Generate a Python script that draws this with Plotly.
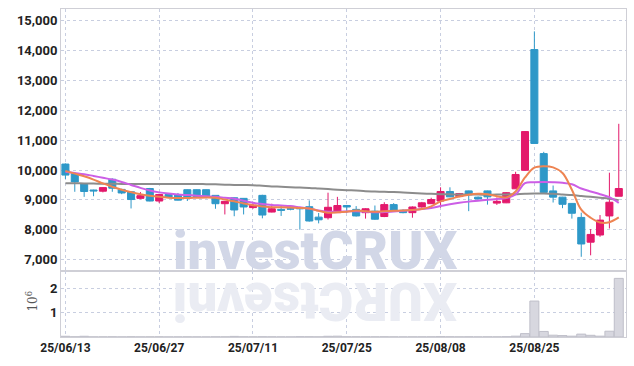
import plotly.graph_objects as go
from plotly.subplots import make_subplots

dates = [
    "2025-06-13", "2025-06-16", "2025-06-17", "2025-06-18", "2025-06-19", "2025-06-20",
    "2025-06-23", "2025-06-24", "2025-06-25", "2025-06-26", "2025-06-27", "2025-06-30",
    "2025-07-01", "2025-07-02", "2025-07-03", "2025-07-04", "2025-07-07", "2025-07-08",
    "2025-07-09", "2025-07-10", "2025-07-11", "2025-07-14", "2025-07-15", "2025-07-16",
    "2025-07-17", "2025-07-18", "2025-07-21", "2025-07-22", "2025-07-23", "2025-07-24",
    "2025-07-25", "2025-07-28", "2025-07-29", "2025-07-30", "2025-07-31", "2025-08-01",
    "2025-08-04", "2025-08-05", "2025-08-06", "2025-08-07", "2025-08-08", "2025-08-11",
    "2025-08-12", "2025-08-13", "2025-08-14", "2025-08-18", "2025-08-19", "2025-08-20",
    "2025-08-21", "2025-08-22", "2025-08-25", "2025-08-26", "2025-08-27", "2025-08-28",
    "2025-08-29", "2025-09-01", "2025-09-02", "2025-09-03", "2025-09-04", "2025-09-05",
]

opens = [10200, 9880, 9540, 9330, 9290, 9690, 9350, 9270, 9050, 9380,
         8960, 9180, 9160, 9340, 9340, 9340, 9150, 8870, 9070, 9050,
         8740, 9150, 8590, 8680, 8700, 8740, 8770, 8420, 8400, 8570,
         8810, 8680, 8570, 8620, 8440, 8840, 8650, 8570, 8760, 8870,
         8960, 9280, 9110, 9300, 9090, 9300, 8890, 8900, 9370, 9990,
         14040, 10550, 9300, 9090, 8880, 8410, 7580, 7820, 8460, 9120]
highs = [10220, 9900, 9540, 9340, 9420, 9720, 9370, 9290, 9260, 9400,
         9200, 9220, 9230, 9350, 9350, 9350, 9150, 8960, 9080, 9060,
         8880, 9170, 8870, 8820, 8760, 8750, 8980, 8560, 9240, 9100,
         8830, 8790, 8720, 8810, 8920, 8890, 8680, 8780, 8930, 9070,
         9420, 9420, 9230, 9310, 9110, 9310, 9080, 9260, 9940, 11300,
         14650, 10610, 9480, 9100, 8890, 8570, 8020, 8490, 9910, 11550]
lows = [9700, 9270, 9100, 9120, 9250, 9270, 9190, 8710, 9020, 8950,
        8890, 9070, 8980, 8960, 9060, 9050, 8700, 8510, 8450, 8510,
        8700, 8380, 8580, 8460, 8650, 8000, 8270, 8210, 8340, 8560,
        8560, 8440, 8370, 8330, 8420, 8600, 8550, 8400, 8740, 8860,
        8740, 9090, 9090, 8620, 9010, 8840, 8830, 8890, 9370, 9980,
        10880, 9240, 8910, 8720, 8370, 7090, 7140, 7760, 8040, 9120]
closes = [9830, 9600, 9280, 9300, 9410, 9390, 9230, 9010, 9140, 8960,
          9180, 9090, 8990, 9070, 9080, 9080, 8870, 8950, 8660, 8760,
          8820, 8490, 8700, 8650, 8690, 8700, 8290, 8330, 8750, 8810,
          8760, 8460, 8700, 8350, 8840, 8620, 8570, 8760, 8900, 9010,
          9280, 9100, 9210, 9170, 9030, 9100, 8950, 9240, 9850, 11290,
          10890, 9250, 9090, 8850, 8550, 7520, 7840, 8320, 8920, 9380]

volumes = [30000, 8000, 30000, 5000, 6000, 8000, 5000, 10000, 5000, 6000,
           8000, 4000, 5000, 6000, 5000, 4000, 7000, 6000, 25000, 8000,
           6000, 9000, 7000, 5000, 4000, 12000, 10000, 6000, 30000, 35000,
           9000, 8000, 6000, 7000, 10000, 6000, 5000, 6000, 7000, 8000,
           15000, 9000, 6000, 8000, 5000, 7000, 6000, 12000, 35000, 140000,
           1490000, 230000, 75000, 60000, 35000, 120000, 70000, 35000, 240000, 2430000]

ma5 = [9970, 9880, 9790, 9680, 9550, 9440, 9340, 9260, 9190, 9140,
       9100, 9070, 9060, 9060, 9070, 9080, 9070, 9010, 8950, 8880,
       8820, 8780, 8750, 8750, 8740, 8730, 8710, 8630, 8570, 8580,
       8600, 8640, 8620, 8600, 8620, 8630, 8640, 8660, 8690, 8780,
       8950, 9030, 9110, 9170, 9200, 9190, 9120, 9080, 9280, 9750,
       10080, 10130, 10090, 9900, 9340, 8670, 8400, 8240, 8250, 8410]
ma10 = [9940, 9900, 9860, 9800, 9740, 9680, 9600, 9500, 9400, 9310,
        9250, 9210, 9180, 9160, 9140, 9120, 9100, 9070, 9040, 8970,
        8900, 8860, 8830, 8810, 8790, 8750, 8710, 8640, 8600, 8600,
        8610, 8620, 8600, 8580, 8590, 8610, 8630, 8660, 8690, 8730,
        8790, 8850, 8900, 8940, 8970, 9000, 9030, 9060, 9180, 9560,
        9590, 9600, 9590, 9570, 9520, 9380, 9280, 9190, 9090, 8900]
ma60 = [9560, 9555, 9550, 9545, 9540, 9540, 9535, 9535, 9530, 9530,
        9530, 9530, 9530, 9530, 9530, 9525, 9520, 9510, 9500, 9495,
        9490, 9470, 9450, 9440, 9425, 9410, 9400, 9380, 9360, 9340,
        9325, 9310, 9290, 9280, 9270, 9260, 9245, 9230, 9215, 9200,
        9190, 9185, 9180, 9180, 9175, 9175, 9175, 9180, 9190, 9205,
        9215, 9210, 9200, 9180, 9160, 9130, 9100, 9070, 9040, 8990]

price_ticks = [7000, 8000, 9000, 10000, 11000, 12000, 13000, 14000, 15000]
volume_ticks = [1000000, 2000000]
volume_tick_text = ["1", "2"]
date_tick_idx = [0, 10, 20, 30, 40, 50]

RED = "#e3196b"
BLUE = "#2e98c8"
GRID = "#c8cee0"
AXIS = "#cfcfd6"
FONT = "Roboto, sans-serif"

fig = make_subplots(rows=2, cols=1, shared_xaxes=True, vertical_spacing=0,
                    row_heights=[0.8, 0.2])

fig.add_trace(go.Candlestick(
    x=dates, open=opens, high=highs, low=lows, close=closes,
    increasing=dict(line=dict(color=RED, width=1), fillcolor=RED),
    decreasing=dict(line=dict(color=BLUE, width=1), fillcolor=BLUE),
    whiskerwidth=0, hoverinfo="skip", showlegend=False), row=1, col=1)

fig.add_trace(go.Scatter(x=dates, y=ma60, mode="lines", line=dict(color="#8c8c8c", width=2, shape="spline"),
                         hoverinfo="skip", showlegend=False), row=1, col=1)
fig.add_trace(go.Scatter(x=dates, y=ma10, mode="lines", line=dict(color="#cc5ee6", width=2, shape="spline"),
                         hoverinfo="skip", showlegend=False), row=1, col=1)
fig.add_trace(go.Scatter(x=dates, y=ma5, mode="lines", line=dict(color="#ee8452", width=2, shape="spline"),
                         hoverinfo="skip", showlegend=False), row=1, col=1)

fig.add_trace(go.Bar(x=dates, y=volumes, marker=dict(color="#d7d7df", line=dict(color="#bfbfc9", width=1)),
                     hoverinfo="skip", showlegend=False), row=2, col=1)

xr = [-0.47, 59.77]
tickvals = [dates[i] for i in date_tick_idx]
ticktext = [dates[i][2:].replace("-", "/") for i in date_tick_idx]

common_x = dict(type="category", range=xr, showgrid=True, gridcolor=GRID, griddash="dot", gridwidth=1,
                tickvals=tickvals, ticktext=ticktext, showline=True, linecolor=AXIS, linewidth=1,
                mirror=True, ticks="", zeroline=False)
fig.update_xaxes(**common_x, showticklabels=False, rangeslider=dict(visible=False), row=1, col=1)
fig.update_xaxes(**common_x, showticklabels=True, row=2, col=1)

fig.update_yaxes(range=[6600, 15400], tickvals=price_ticks, tickformat=",d", showgrid=True, gridcolor=GRID,
                 griddash="dot", showline=True, linecolor=AXIS, mirror=True, ticks="", zeroline=False,
                 tickfont=dict(size=13), row=1, col=1)
fig.update_yaxes(range=[0, 2720000], tickvals=volume_ticks, ticktext=volume_tick_text, showgrid=True,
                 gridcolor=GRID, griddash="dot", showline=True, linecolor=AXIS, mirror=True, ticks="",
                 zeroline=False, tickfont=dict(size=13), row=2, col=1)

fig.update_layout(
    width=634, height=366,
    margin=dict(l=61, r=8, t=9, b=29),
    paper_bgcolor="white", plot_bgcolor="white",
    font=dict(family=FONT, size=12, color="#222222", weight="bold"),
    boxgap=0.25, boxgroupgap=0, bargap=0.04,
    showlegend=False,
)

# watermark and its reflection
WM = "Roboto, sans-serif"
fig.add_annotation(xref="paper", yref="paper", x=0.4495, y=0.262, text="investCRUX",
                   showarrow=False, xanchor="center", yanchor="middle",
                   font=dict(family=WM, size=53, color="#d2d7e7", weight=900))
fig.add_annotation(xref="paper", yref="paper", x=0.4495, y=0.112, text="XURCtsevni",
                   showarrow=False, xanchor="center", yanchor="middle", textangle=180,
                   font=dict(family=WM, size=53, color="#eaecf3", weight=900))

fig.add_annotation(xref="paper", yref="paper", x=-0.052, y=0.11, text="10<sup>6</sup>",
                   showarrow=False, textangle=-90, xanchor="center", yanchor="middle",
                   font=dict(family="DejaVu Serif, serif", size=12, color="#555555", weight="normal"))

fig.write_html("out.html")
